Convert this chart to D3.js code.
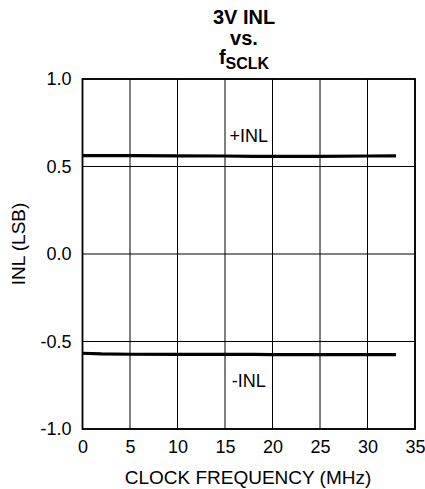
<!DOCTYPE html>
<html lang="en">
<head>
<meta charset="utf-8">
<script src="https://d3js.org/d3.v7.min.js"></script>
<style>
  body { margin: 0; background: #fff; }
  text { font-family: "Liberation Sans", Arial, sans-serif; fill: #000; }
</style>
</head>
<body>
<div id="chart"></div>
<script>
// clock frequency (MHz) and INL readings (LSB)
var freq = [0, 2, 5, 10, 15, 18, 20, 25, 30, 33];
var inlPos = [0.562, 0.562, 0.562, 0.561, 0.560, 0.558, 0.558, 0.558, 0.560, 0.561];
var inlNeg = [-0.567, -0.571, -0.573, -0.574, -0.574, -0.574, -0.575, -0.575, -0.575, -0.575];
var xTicks = [0, 5, 10, 15, 20, 25, 30, 35];
var yTicks = [-1.0, -0.5, 0.0, 0.5, 1.0];

var W = 425, H = 489;
var margin = {top: 79, right: 10, bottom: 60, left: 82.5};
var width = 415 - margin.left,
    height = 429 - margin.top;

var svg = d3.select("#chart").append("svg")
    .attr("width", W)
    .attr("height", H);

var g = svg.append("g")
    .attr("transform", "translate(" + margin.left + "," + margin.top + ")");

var x = d3.scaleLinear().domain([0, 35]).range([0, width]);
var y = d3.scaleLinear().domain([-1, 1]).range([height, 0]);

// grid
g.selectAll(".vgrid").data(xTicks).enter().append("line")
    .attr("x1", d => x(d)).attr("x2", d => x(d))
    .attr("y1", 0).attr("y2", height)
    .attr("stroke", "#000").attr("stroke-width", 1);
g.selectAll(".hgrid").data(yTicks).enter().append("line")
    .attr("x1", 0).attr("x2", width)
    .attr("y1", d => y(d)).attr("y2", d => y(d))
    .attr("stroke", "#000").attr("stroke-width", 1);

// frame
g.append("rect")
    .attr("width", width).attr("height", height)
    .attr("fill", "none").attr("stroke", "#000").attr("stroke-width", 1.8);

// axes (labels only), plain hyphen for negatives like the original
var fmtY = d => d3.format(".1f")(d).replace("\u2212", "-");
var xAxis = g.append("g")
    .attr("transform", "translate(0," + height + ")")
    .call(d3.axisBottom(x).tickValues(xTicks).tickSize(0).tickPadding(11).tickFormat(d3.format("d")));
var yAxis = g.append("g")
    .call(d3.axisLeft(y).tickValues(yTicks).tickSize(0).tickPadding(11).tickFormat(fmtY));
[xAxis, yAxis].forEach(function(a) {
  a.select(".domain").remove();
  a.selectAll("text").attr("font-size", 18).attr("font-family", "Liberation Sans, Arial, sans-serif");
});

// data lines
var line = d3.line().x(d => x(d[0])).y(d => y(d[1]));
[inlPos, inlNeg].forEach(function(s) {
  g.append("path")
    .datum(freq.map((f, i) => [f, s[i]]))
    .attr("d", line)
    .attr("fill", "none")
    .attr("stroke", "#000")
    .attr("stroke-width", 3.2);
});

// series labels
g.append("text").attr("x", x(17.5)).attr("y", y(0.64))
    .attr("text-anchor", "middle").attr("font-size", 18).text("+INL");
g.append("text").attr("x", x(17.5)).attr("y", y(-0.76))
    .attr("text-anchor", "middle").attr("font-size", 18).text("-INL");

// title
var title = svg.append("g").attr("font-weight", "bold").attr("font-size", 20);
title.append("text").attr("x", 244).attr("y", 24).attr("text-anchor", "middle").text("3V INL");
title.append("text").attr("x", 244).attr("y", 45).attr("text-anchor", "middle").text("vs.");
var t3 = title.append("text").attr("x", 244).attr("y", 64).attr("text-anchor", "middle");
t3.append("tspan").text("f");
t3.append("tspan").attr("dy", 5).attr("font-size", 16).text("SCLK");

// axis titles
svg.append("text").attr("x", 248).attr("y", 484)
    .attr("text-anchor", "middle").attr("font-size", 19).text("CLOCK FREQUENCY (MHz)");
svg.append("text")
    .attr("transform", "translate(25,244) rotate(-90)")
    .attr("text-anchor", "middle").attr("font-size", 19).text("INL (LSB)");
</script>
</body>
</html>
